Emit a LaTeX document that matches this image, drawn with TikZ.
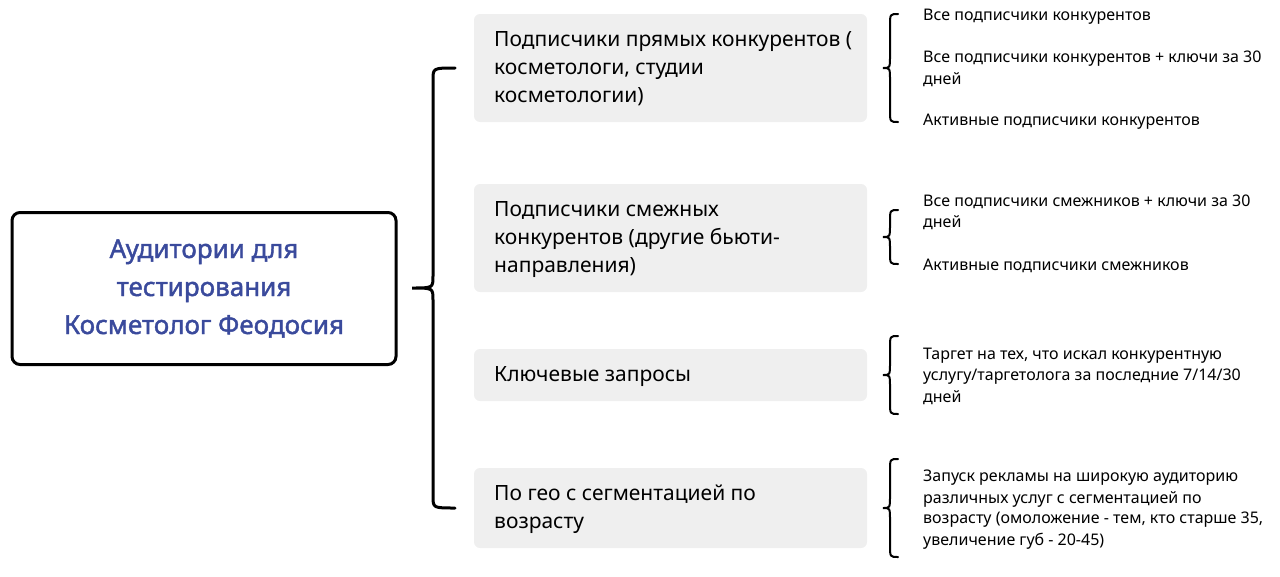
\documentclass[tikz,border=0pt]{standalone}
\usepackage{fontspec}
\setmainfont{Noto Sans}
\newfontfamily\titlefont[FakeBold=1.6]{Noto Sans}
\definecolor{navy}{HTML}{3A4A9C}
\definecolor{boxg}{HTML}{EFEFEF}
\newcommand\curlyb[7]{%
  \draw[#7] (#1,#4) .. controls (#2,#4) .. (#2,{#4+12}) -- (#2,{#5-12}) .. controls (#2,#5) .. (#3,#5)
   .. controls (#2,#5) .. (#2,{#5+12}) -- (#2,{#6-12}) .. controls (#2,#6) .. (#1,#6);}
\begin{document}
\begin{tikzpicture}[x=1pt,y=-1pt,
  gbox/.style={fill=boxg,rounded corners=6pt,draw=none},
  gtext/.style={anchor=north west,align=left,font=\fontsize{21}{28}\selectfont,inner sep=0pt},
  small/.style={anchor=west,inner sep=0pt,font=\fontsize{16}{20}\selectfont}]
\useasboundingbox (0,0) rectangle (1280,576);
\node[draw,line width=3pt,rounded corners=8pt,minimum width=384pt,minimum height=152pt,
  align=center,text=navy,font=\titlefont\fontsize{26}{38}\selectfont] (main) at (204,288.5)
  {Аудитории для\\тестирования\\Косметолог Феодосия};
\curlyb{455}{433}{412}{68}{288}{508}{line width=3pt,line cap=round}
\fill[gbox] (474,14) rectangle (867,122);
\fill[gbox] (474,184) rectangle (867,292);
\fill[gbox] (474,349) rectangle (867,401);
\fill[gbox] (474,468) rectangle (867,548);
\node[gtext] (b1) at (494,31) {Подписчики прямых конкурентов (\\косметологи, студии\\косметологии)};
\node[gtext] (b2) at (494,201) {Подписчики смежных\\конкурентов (другие бьюти-\\направления)};
\node[gtext] (b3) at (494,366) {Ключевые запросы};
\node[gtext] (b4) at (494,485) {По гео с сегментацией по\\возрасту};
\tikzset{sb/.style={line width=2pt,line cap=round}}
\curlyb{898}{890}{883}{14}{68}{122}{sb}
\curlyb{898}{890}{883}{210}{237}{264}{sb}
\curlyb{898}{890}{883}{336}{375}{414}{sb}
\curlyb{898}{890}{883}{459}{508}{557}{sb}
\node[small] (t1) at (923,17) {Все подписчики конкурентов};
\node[small] (t2) at (923,59) {Все подписчики конкурентов + ключи за 30};
\node[small] (t3) at (923,80) {дней};
\node[small] (t4) at (923,122) {Активные подписчики конкурентов};
\node[small] (t5) at (923,202) {Все подписчики смежников + ключи за 30};
\node[small] (t6) at (923,223) {дней};
\node[small] (t7) at (923,266) {Активные подписчики смежников};
\node[small] (t8) at (923,356) {Таргет на тех, что искал конкурентную};
\node[small] (t9) at (923,377) {услугу/таргетолога за последние 7/14/30};
\node[small] (t10) at (923,398) {дней};
\node[small] (t11) at (923,478) {Запуск рекламы на широкую аудиторию};
\node[small] (t12) at (923,499) {различных услуг с сегментацией по};
\node[small] (t13) at (923,520) {возрасту (омоложение - тем, кто старше 35,};
\node[small] (t14) at (923,541) {увеличение губ - 20-45)};
\end{tikzpicture}
\end{document}
